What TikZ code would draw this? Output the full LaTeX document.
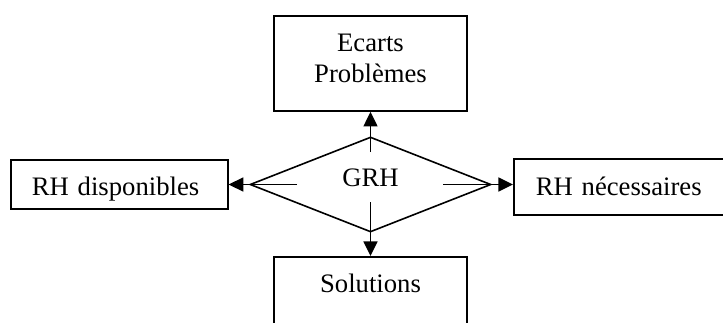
\documentclass[tikz,border=0pt]{standalone}
\usepackage{fontspec}
\setmainfont{Liberation Serif}
\usetikzlibrary{arrows.meta,shapes.geometric}

\tikzset{
  boite/.style={draw,line width=1.2pt,inner ysep=0pt},
  gestion/.style={draw,diamond,line width=1.2pt,inner sep=0pt,minimum width=180.75pt,minimum height=71.25pt},
  fleche/.style={->,line width=1.2pt}
}

\begin{document}
\begin{tikzpicture}[x=0.75pt,y=0.75pt,>={Triangle[length=11pt,width=10.5pt]},font=\fontsize{20}{23}\selectfont]
  \useasboundingbox (0,0) rectangle (723,322);
  \clip (0,0) rectangle (723,322);
  % boites
  \node[boite,minimum width=144.75pt,text height=49.5pt,text depth=21.75pt,align=center] (ecarts) at (370.5,258.5) {Ecarts\\Problèmes};
  \node[boite,anchor=west,inner xsep=15.75pt,text width=131.25pt,align=left,text height=26.25pt,text depth=10.5pt] (dispo) at (10,137.5) {RH disponibles};
  \node[boite,anchor=west,inner xsep=16.5pt,text width=200pt,align=left,text height=27pt,text depth=15pt] (besoins) at (513,135) {RH nécessaires};
  \node[boite,anchor=north,minimum width=144.75pt,text height=27pt,text depth=33pt] (solutions) at (370.5,66) {Solutions};
  % losange central
  \node[gestion] (grh) at (370.5,137.5) {};
  \node (grhtxt) at (370.5,144) {GRH};
  % fleches
  \coordinate (haut) at (370.5,170);
  \coordinate (bas) at (370.5,120);
  \coordinate (gauche) at (297,137.5);
  \coordinate (droite) at (443,137.5);
  \draw[fleche] (haut) -- (ecarts);
  \draw[fleche] (bas) -- (solutions);
  \draw[fleche] (gauche) -- (gauche -| dispo.east);
  \draw[fleche] (droite) -- (droite -| besoins.west);
\end{tikzpicture}
\end{document}
